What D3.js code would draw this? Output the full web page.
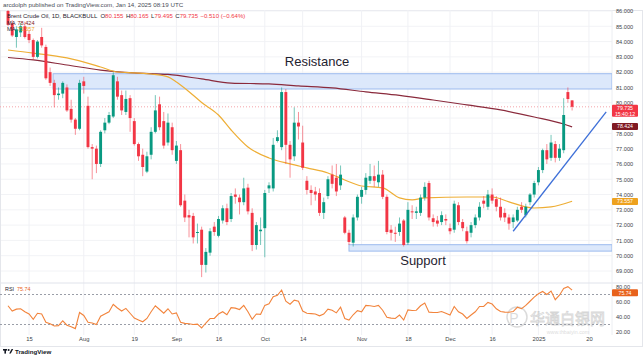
<!DOCTYPE html>
<html>
<head>
<meta charset="utf-8">
<script src="https://cdn.jsdelivr.net/npm/d3@7"></script>
<style>
body { margin: 0; background: #fff; }
svg { display: block; font-family: "Liberation Sans", Arial, sans-serif; }
</style>
</head>
<body>
<svg width="643" height="358"></svg>
<script>
var svg = d3.select('svg');

// daily candles, Jul 8 2024 -> Jan 14 2025
const opens = [86.0,85.2,84.3,84.6,85.0,84.5,84.1,83.0,84.3,83.65,
82.0,81.3,80.5,80.6,81.0,79.6,78.9,78.3,81.4,79.8,
77.1,77.0,76.0,78.2,78.7,79.1,81.4,80.5,79.4,80.3,
78.8,77.3,76.6,75.5,76.6,78.1,79.9,78.8,77.4,78.4,
76.2,76.9,73.6,72.65,72.6,71.5,71.7,69.4,70.2,71.9,
71.3,72.3,73.1,72.4,74.0,73.8,73.5,74.45,72.8,70.7,
71.6,71.8,74.4,74.4,77.5,77.1,80.7,77.25,76.5,78.7,
77.4,74.9,74.3,74.2,74.1,72.8,73.9,75.3,75.1,74.6,
72.5,71.5,70.85,72.5,73.85,74.3,74.9,75.2,74.8,75.3,
73.85,71.7,71.5,71.55,72.3,70.85,72.9,72.8,72.8,73.8,
74.75,72.45,72.3,72.2,72.4,71.8,71.7,73.3,72.2,71.6,
71.5,72.0,72.5,73.6,73.2,74.0,73.7,73.2,72.8,72.5,
72.2,72.3,73.2,72.65,73.5,74.0,74.8,75.6,76.9,76.4,
77.3,76.4,76.9,80.7,80.155];

const highs = [86.2,85.4,85.0,85.2,85.3,84.7,84.2,84.1,84.9,83.8,
82.3,81.5,81.0,81.4,81.2,80.2,79.0,81.5,81.7,80.4,
77.3,77.2,78.2,79.0,79.4,82.0,81.7,80.8,80.8,80.5,
79.0,77.4,77.0,76.8,78.4,80.5,80.4,79.4,79.3,78.7,
77.5,77.3,74.0,73.0,72.8,72.1,71.9,70.5,71.8,72.2,
72.6,73.3,73.4,74.1,74.4,74.0,75.1,74.7,73.1,72.2,
72.5,74.3,74.8,77.7,78.2,81.0,80.9,77.5,79.7,79.4,
78.5,75.2,74.6,74.5,74.4,73.8,75.2,75.9,76.0,75.9,
72.6,71.7,72.7,74.0,74.5,75.4,76.0,75.9,76.2,75.6,
74.0,72.0,71.9,72.5,72.4,73.5,73.3,73.2,74.0,74.8,
74.9,72.7,72.6,72.9,72.7,72.1,73.6,73.5,72.4,71.9,
72.2,72.7,73.5,73.9,74.3,74.4,73.9,73.8,73.1,72.7,
72.7,73.2,73.5,73.4,74.1,74.9,75.8,77.0,77.3,77.9,
77.5,77.3,80.3,81.0,80.165];

const lows = [85.0,84.3,83.6,84.3,84.2,83.9,82.8,82.9,83.6,81.5,
81.1,79.7,80.2,80.3,79.4,78.7,77.9,78.2,80.6,77.0,
75.0,75.4,75.8,78.0,78.6,79.0,80.2,79.2,79.2,78.1,
77.2,76.2,75.2,75.4,76.3,78.0,78.2,77.0,77.2,76.6,
76.0,73.2,72.2,71.2,70.8,70.8,68.6,68.9,70.0,71.3,
71.2,72.1,72.0,72.2,73.4,72.7,73.3,72.7,70.3,70.4,
70.7,69.9,74.1,74.2,77.4,76.9,76.0,75.1,76.2,77.6,
75.6,74.0,73.3,73.6,72.6,72.4,73.7,74.4,73.9,74.3,
71.4,70.7,70.6,72.3,73.4,74.0,74.7,74.5,74.5,73.7,
71.4,71.0,70.9,71.3,70.6,70.7,72.4,72.4,72.6,73.6,
72.3,71.9,71.9,72.0,72.0,71.4,71.5,72.0,71.6,70.8,
71.2,71.8,72.3,73.1,73.0,73.4,72.9,72.3,72.2,71.7,
71.8,72.2,72.8,72.5,73.3,73.8,74.6,75.4,76.0,76.2,
76.1,76.2,76.7,80.0,79.495];

const closes = [85.1,84.4,84.8,85.0,84.3,84.1,83.0,84.0,83.75,81.6,
81.3,80.5,80.6,81.3,79.5,78.9,78.3,81.3,81.1,77.1,
77.0,76.0,78.1,78.7,79.2,81.8,80.4,79.5,80.25,79.0,
77.3,76.5,75.8,76.5,78.1,79.5,78.4,77.2,78.7,76.9,
77.2,73.3,72.5,72.5,71.2,71.55,69.4,70.25,71.6,71.55,
72.4,73.1,72.2,73.9,73.85,73.5,74.4,72.9,70.7,72.0,
71.7,74.1,74.6,77.25,77.75,80.7,77.25,76.3,78.7,78.45,
75.75,74.3,74.1,74.0,72.8,73.5,75.0,74.7,74.2,75.3,
71.5,70.9,72.5,73.85,74.3,75.1,75.2,74.9,75.3,73.85,
71.55,71.5,71.45,72.1,70.7,73.0,72.85,72.9,73.8,74.5,
72.5,72.2,72.1,72.65,72.3,71.6,73.4,72.2,71.8,70.95,
72.0,72.5,73.2,73.4,74.0,73.6,73.2,72.5,72.5,72.1,
72.5,73.0,73.0,73.2,74.0,74.75,75.6,76.9,76.3,77.4,
76.4,77.0,79.2,80.245,79.735];

const rsiValues = [55,48,50.5,51,47,44,37,45,44,33,
31,28,28.5,35,29,27,24.5,46,42,33,
32,30,41,44,47,57,52,48,51.5,45,
38.5,36,33.6,38,47,55,50,45,51,44,
45.5,33,31.5,31,30,30.5,25.5,32,38,38,
44,47,43,52.5,51.8,50,55.5,47,37,44,
43.6,55.5,57.5,67,69,76,61,57,62.5,61,
48,45,44.5,44,41.5,44,50.5,49,45.5,53,
38,36,43,48.5,47,55.5,55,54,55.5,49,
39.5,38.5,38,42.5,36,49.5,48.6,49,55,58.5,
46.5,46,46,47.3,45,42.7,54,47,44,38,
42.7,47,54,54,59.5,57.3,51,47.3,46.5,46.4,
47.3,53,51,55.5,61,66.5,71,74,70,74.5,
63,69,78,80.5,75.74];

// moving averages (bar index, value)
const maSlowIdx = [0,6,14,22,30,38,46,53,62,69,77,85,93,101,109,117,125,132,134];
const maSlowVal = [82.96,82.80,82.47,82.14,81.95,81.85,81.56,81.29,81.23,81.10,80.97,80.71,80.48,80.18,79.86,79.53,79.07,78.61,78.424];
const maFastIdx = [0,6,14,22,26,30,34,38,40,42.5,46,50,53,57,62,67,71,76,80,84,89,93,96,99,109,115,119,125,129,134];
const maFastVal = [83.45,83.25,82.93,82.34,82.01,81.95,81.88,81.69,81.36,80.84,80.02,79.20,78.22,77.11,76.39,76.0,75.74,75.41,74.95,74.56,74.43,73.78,73.65,73.78,73.84,73.84,73.52,73.12,73.19,73.557];

// drawn zones and trend line
const resistanceZone = [80.9, 81.9];
const resistanceFrom = 10.7;
const supportZone = [70.3, 70.72];
const supportFrom = 81;
const trendIdx = [120, 142.1];
const trendVal = [71.6, 79.4];

// 79 is hidden behind the last-price tag
const priceTicks = d3.range(69, 87).filter(d => d !== 79);
const gridTicks = d3.range(69, 87);
const rsiTicks = [20, 40, 60, 80];
const dateIdx = [5, 18, 30, 40, 50, 61, 70, 84, 95, 105, 115, 126, 138];
const dateLabels = ["15", "Aug", "19", "Sep", "16", "Oct", "14", "Nov", "18", "Dec", "16", "2025", "20"];
const lastPrice = 79.735;
const maSlowLast = 78.424;
const maFastLast = 73.557;
const rsiLast = 75.74;

const up = '#089981', down = '#f23645';
const plotRight = 612, priceTop = 10, paneSplit = 283, rsiBottom = 335;

var x = d3.scaleLinear().domain([0, 134]).range([8, 572.1]);
var y = d3.scaleLinear().domain([69, 86]).range([271, 11]);
var rsiY = d3.scaleLinear().domain([20, 80]).range([332, 287]);

var defs = svg.append('defs');
defs.append('clipPath').attr('id', 'clipPrice').append('rect')
    .attr('x', 0).attr('y', priceTop).attr('width', plotRight).attr('height', paneSplit - priceTop);
defs.append('clipPath').attr('id', 'clipRsi').append('rect')
    .attr('x', 0).attr('y', paneSplit).attr('width', plotRight).attr('height', rsiBottom - paneSplit);

// frame
svg.append('rect').attr('x', 0.5).attr('y', priceTop + 0.5).attr('width', 642).attr('height', 336)
    .attr('fill', 'none').attr('stroke', '#e4e6eb');

// grid
svg.append('g').selectAll('line').data(gridTicks).join('line')
    .attr('x1', 1).attr('x2', plotRight)
    .attr('y1', d => y(d)).attr('y2', d => y(d))
    .attr('stroke', '#f2f3f6');
svg.append('g').selectAll('line').data(dateIdx).join('line')
    .attr('x1', d => x(d)).attr('x2', d => x(d))
    .attr('y1', priceTop).attr('y2', rsiBottom)
    .attr('stroke', '#f0f1f5');

svg.append('line').attr('x1', 1).attr('x2', 642).attr('y1', paneSplit).attr('y2', paneSplit)
    .attr('stroke', '#e0e3eb');
svg.append('line').attr('x1', plotRight).attr('x2', plotRight).attr('y1', priceTop).attr('y2', rsiBottom)
    .attr('stroke', '#eceef2');

var price = svg.append('g').attr('clip-path', 'url(#clipPrice)');

// zones
price.append('rect')
    .attr('x', x(resistanceFrom)).attr('y', y(resistanceZone[1]))
    .attr('width', plotRight - x(resistanceFrom))
    .attr('height', y(resistanceZone[0]) - y(resistanceZone[1]))
    .attr('fill', '#dce8fb').attr('stroke', '#9dbbee').attr('stroke-width', 1);
price.append('rect')
    .attr('x', x(supportFrom)).attr('y', y(supportZone[1]))
    .attr('width', plotRight - x(supportFrom))
    .attr('height', y(supportZone[0]) - y(supportZone[1]))
    .attr('fill', '#dce8fb').attr('stroke', '#9dbbee').attr('stroke-width', 1);

// last price line
price.append('line')
    .attr('x1', 0).attr('x2', plotRight)
    .attr('y1', y(lastPrice)).attr('y2', y(lastPrice))
    .attr('stroke', '#f4a3aa').attr('stroke-dasharray', '1,2');

// moving averages
var maLine = d3.line().curve(d3.curveMonotoneX);
price.append('path')
    .attr('d', maLine(maSlowIdx.map((d, i) => [x(d), y(maSlowVal[i])])))
    .attr('fill', 'none').attr('stroke', '#8a2a3c').attr('stroke-width', 1.2);
price.append('path')
    .attr('d', maLine(maFastIdx.map((d, i) => [x(d), y(maFastVal[i])])))
    .attr('fill', 'none').attr('stroke', '#eeae35').attr('stroke-width', 1.2);

// candles
var candles = price.append('g').selectAll('g').data(opens).join('g');
candles.append('line')
    .attr('x1', (d, i) => x(i)).attr('x2', (d, i) => x(i))
    .attr('y1', (d, i) => y(Math.max(highs[i], opens[i], closes[i])))
    .attr('y2', (d, i) => y(Math.min(lows[i], opens[i], closes[i])))
    .attr('stroke', (d, i) => closes[i] >= opens[i] ? up : down)
    .attr('stroke-opacity', 0.55);
candles.append('rect')
    .attr('x', (d, i) => x(i) - 1.45)
    .attr('width', 2.9)
    .attr('y', (d, i) => y(Math.max(opens[i], closes[i])))
    .attr('height', (d, i) => Math.max(1, Math.abs(y(opens[i]) - y(closes[i]))))
    .attr('fill', (d, i) => closes[i] >= opens[i] ? up : down);

// trend line
price.append('line')
    .attr('x1', x(trendIdx[0])).attr('y1', y(trendVal[0]))
    .attr('x2', x(trendIdx[1])).attr('y2', y(trendVal[1]))
    .attr('stroke', '#3d6fd8').attr('stroke-width', 1.3);

// annotations
svg.append('text').attr('x', 317).attr('y', 66).attr('text-anchor', 'middle')
    .attr('font-size', 13).attr('fill', '#1f2330').text('Resistance');
svg.append('text').attr('x', 423).attr('y', 265).attr('text-anchor', 'middle')
    .attr('font-size', 13).attr('fill', '#1f2330').text('Support');

// watermark (drawn under the RSI line)
var wm = svg.append('g').attr('opacity', 0.35);
wm.append('circle').attr('cx', 517).attr('cy', 317).attr('r', 10)
    .attr('fill', 'none').attr('stroke', '#9a9a9a').attr('stroke-width', 1.5);
wm.append('text').attr('x', 514).attr('y', 322.5).attr('font-size', 14).attr('fill', '#9a9a9a')
    .attr('text-anchor', 'middle').text('P');
wm.append('text').attr('x', 530).attr('y', 323.5).attr('font-size', 15)
    .attr('font-family', 'Noto Sans CJK SC').attr('fill', 'none')
    .attr('stroke', '#8c8c8c').attr('stroke-width', 0.8).text('华通白银网');
wm.append('text').attr('x', 568).attr('y', 334).attr('font-size', 5.3).attr('text-anchor', 'middle')
    .attr('fill', '#9a9a9a').text('www.thbaiyin.com');

// RSI pane
var rsiG = svg.append('g').attr('clip-path', 'url(#clipRsi)');
[70, 30].forEach(function(v) {
    rsiG.append('line').attr('x1', 0).attr('x2', plotRight)
        .attr('y1', rsiY(v)).attr('y2', rsiY(v))
        .attr('stroke', '#9a9ea8').attr('stroke-dasharray', '2,2');
});
rsiG.append('path')
    .attr('d', d3.line().x((d, i) => x(i)).y(d => rsiY(d))(rsiValues))
    .attr('fill', 'none').attr('stroke', '#f2843c').attr('stroke-width', 1.1);

// price axis
var pAxis = svg.append('g').attr('transform', 'translate(613,0)')
    .call(d3.axisRight(y).tickValues(priceTicks).tickFormat(d3.format('.3f')).tickSize(0).tickPadding(3));
pAxis.select('.domain').remove();
pAxis.attr('font-size', 5.6).attr('font-family', 'Liberation Sans, Arial, sans-serif');
pAxis.selectAll('text').attr('fill', '#3c3f47');

var rAxis = svg.append('g').attr('transform', 'translate(613,0)')
    .call(d3.axisRight(rsiY).tickValues(rsiTicks).tickFormat(d3.format('.2f')).tickSize(0).tickPadding(3));
rAxis.select('.domain').remove();
rAxis.attr('font-size', 5.6).attr('font-family', 'Liberation Sans, Arial, sans-serif');
rAxis.selectAll('text').attr('fill', '#3c3f47');

// time axis
var tAxis = svg.append('g').attr('transform', 'translate(0,' + rsiBottom + ')')
    .call(d3.axisBottom(x).tickValues(dateIdx).tickFormat((d, i) => dateLabels[i]).tickSize(0).tickPadding(2));
tAxis.select('.domain').remove();
tAxis.attr('font-size', 5.8).attr('font-family', 'Liberation Sans, Arial, sans-serif');
tAxis.selectAll('text').attr('fill', '#3c3f47');

// right-hand value tags
function tag(top, h, fill, lines) {
    svg.append('rect').attr('x', 612).attr('y', top).attr('width', 26).attr('height', h)
        .attr('fill', fill).attr('rx', 1);
    lines.forEach(function(t, k) {
        svg.append('text').attr('x', 625).attr('y', top + 5.4 + k * 5.8).attr('text-anchor', 'middle')
            .attr('font-size', 5.2).attr('fill', '#fff').text(t);
    });
}
tag(y(lastPrice) - 2, 12, '#f23645', [d3.format('.3f')(lastPrice), '15:40:12']);
tag(y(maSlowLast) - 3.8, 7, '#801922', [d3.format('.3f')(maSlowLast)]);
tag(y(maFastLast) - 3.4, 7, '#eea21f', [d3.format('.3f')(maFastLast)]);
tag(rsiY(rsiLast) - 1, 7, '#e8621c', [d3.format('.2f')(rsiLast)]);

// header
svg.append('text').attr('x', 3).attr('y', 7).attr('font-size', 6.2).attr('fill', '#4a4d57')
    .text('arcdolph published on TradingView.com, Jan 14, 2025 08:19 UTC');
var legend = svg.append('text').attr('x', 7).attr('y', 17.5).attr('font-size', 6).attr('fill', '#1f2330');
legend.append('tspan').text('Brent Crude Oil, 1D, BLACKBULL');
[['O', '80.155'], ['H', '80.165'], ['L', '79.495'], ['C', '79.735']].forEach(function(p, k) {
    legend.append('tspan').attr('dx', k === 0 ? 3 : 2.5).attr('fill', '#1f2330').text(p[0]);
    legend.append('tspan').attr('fill', '#f23645').text(p[1]);
});
legend.append('tspan').attr('dx', 2.5).attr('fill', '#f23645').text('\u22120.510 (\u22120.64%)');

var ma1 = svg.append('text').attr('x', 7).attr('y', 24.5).attr('font-size', 5.6).attr('fill', '#1f2330');
ma1.append('tspan').text('MA');
ma1.append('tspan').attr('dx', 2).attr('fill', '#801922').text(d3.format('.3f')(maSlowLast));
var ma2 = svg.append('text').attr('x', 7).attr('y', 31).attr('font-size', 5.6).attr('fill', '#1f2330');
ma2.append('tspan').text('MA');
ma2.append('tspan').attr('dx', 2).attr('fill', '#eea21f').text(d3.format('.3f')(maFastLast));

var rsiLabel = svg.append('text').attr('x', 5).attr('y', 291).attr('font-size', 5.4).attr('fill', '#1f2330');
rsiLabel.append('tspan').text('RSI');
rsiLabel.append('tspan').attr('dx', 3).attr('fill', '#e8621c').text(d3.format('.2f')(rsiLast));

// footer logo
var logo = svg.append('g').attr('transform', 'translate(3,349)');
logo.append('rect').attr('x', 0).attr('y', 0).attr('width', 4).attr('height', 1.6).attr('fill', '#131722');
logo.append('rect').attr('x', 1.4).attr('y', 0).attr('width', 1.6).attr('height', 4.6).attr('fill', '#131722');
logo.append('circle').attr('cx', 5.6).attr('cy', 1).attr('r', 1).attr('fill', '#131722');
logo.append('path').attr('d', 'M6.2,4.6 L8.6,0 L10.2,0 L7.8,4.6 Z').attr('fill', '#131722');
logo.append('text').attr('x', 12).attr('y', 4.6).attr('font-size', 6.2).attr('font-weight', 'bold')
    .attr('fill', '#131722').text('TradingView');
</script>
</body>
</html>
